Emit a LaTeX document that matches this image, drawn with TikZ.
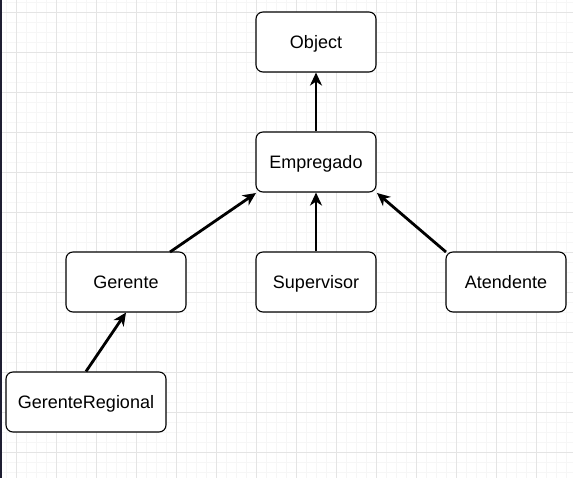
\documentclass[tikz,border=0pt]{standalone}
\usepackage{fontspec}
\setmainfont{Liberation Sans}
\usetikzlibrary{arrows.meta}
\definecolor{minorgrid}{HTML}{F6F6F6}
\definecolor{majorgrid}{HTML}{E4E4E4}
\definecolor{leftbar}{HTML}{1E1E32}
\begin{document}
\begin{tikzpicture}[x=1pt,y=-1pt,
  box/.style={draw=black,line width=1.1pt,rounded corners=7pt,fill=white,minimum width=#1,minimum height=60pt,inner sep=0pt,text height=15pt,text depth=2pt,font=\fontsize{18}{21}\selectfont},
  box/.default=120pt,
  inh/.style={line width=2.8pt,-{Stealth[length=13pt,width=12pt,inset=4pt]}}]
\useasboundingbox (0,0) rectangle (573,478);
\fill[white] (0,0) rectangle (573,478);
\foreach \x in {6,16,...,573} \draw[minorgrid,line width=0.8pt] (\x,0) -- (\x,478);
\foreach \y in {2,12,...,478} \draw[minorgrid,line width=0.8pt] (0,\y) -- (573,\y);
\foreach \x in {16,56,...,573} \draw[majorgrid,line width=0.8pt] (\x,0) -- (\x,478);
\foreach \y in {12,52,...,478} \draw[majorgrid,line width=0.8pt] (0,\y) -- (573,\y);
\fill[leftbar] (0,0) rectangle (1.5,478);
\node[box] (obj) at (316,42) {Object};
\node[box] (emp) at (316,162) {Empregado};
\node[box] (ger) at (126,282) {Gerente};
\node[box] (sup) at (316,282) {Supervisor};
\node[box] (ate) at (506,282) {Atendente};
\node[box=160pt] (gr) at (86,402) {GerenteRegional};
\coordinate (g1) at (170,252);
\coordinate (g2) at (256,193);
\coordinate (a1) at (446,252);
\coordinate (a2) at (377,193);
\draw[inh] (emp.north) -- (obj.south);
\draw[inh] (g1) -- (g2);
\draw[inh] (sup.north) -- (emp.south);
\draw[inh] (a1) -- (a2);
\draw[inh] (gr.north) -- (ger.south);
\end{tikzpicture}
\end{document}
